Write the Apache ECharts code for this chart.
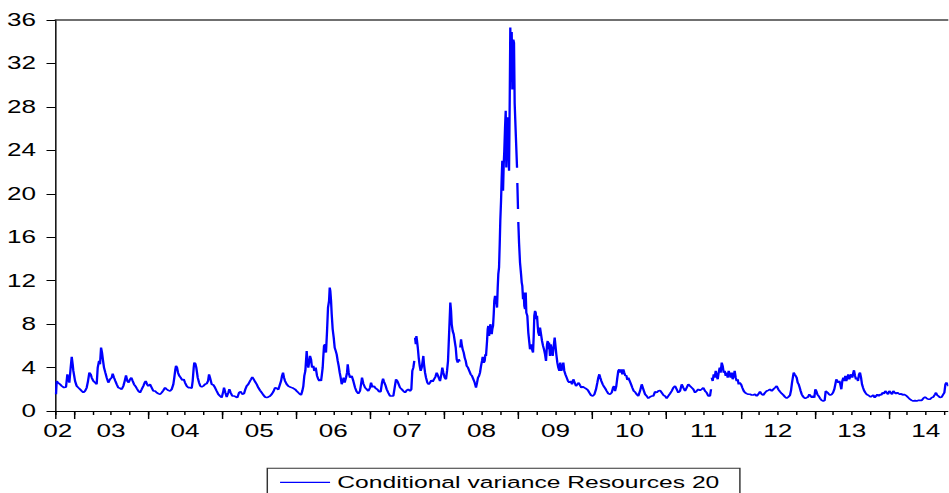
<!DOCTYPE html>
<html><head><meta charset="utf-8">
<script src="https://cdn.jsdelivr.net/npm/echarts@6/dist/echarts.min.js"></script>
<style>
html,body{margin:0;padding:0;background:#fff;overflow:hidden;width:949px;height:493px}
#chart{position:absolute;left:0;top:0;height:493px;transform-origin:0 0}
</style></head><body><div id="chart"></div>
<script>
// Observations: [decimal year, conditional variance]; null = missing observation
const seg2002_2004 = [[2002.757,1.54],[2002.766,2.76],[2002.784,2.61],[2002.811,2.46],[2002.834,2.30],[2002.865,2.15],[2002.892,2.21],[2002.910,3.38],[2002.923,2.92],[2002.937,2.61],[2002.955,4.00],[2002.969,4.98],[2002.982,4.30],[2002.991,3.69],
[2003.014,2.76],[2003.036,2.30],[2003.058,2.15],[2003.081,2.00],[2003.104,1.84],[2003.126,1.69],[2003.149,1.84],[2003.171,2.15],[2003.189,2.76],[2003.207,3.53],[2003.225,3.38],[2003.239,3.07],[2003.261,2.76],[2003.284,2.61],[2003.306,2.46],[2003.320,4.00],[2003.338,4.61],[2003.351,4.30],[2003.365,5.84],[2003.378,5.38],[2003.392,4.61],[2003.405,4.00],[2003.423,3.53],[2003.441,3.07],[2003.463,2.61],[2003.486,2.92],[2003.509,3.07],[2003.522,3.44],[2003.540,3.07],[2003.558,2.76],[2003.576,2.46],[2003.598,2.15],[2003.621,2.09],[2003.644,2.00],[2003.666,2.30],[2003.684,2.76],[2003.702,3.29],[2003.720,2.76],[2003.738,2.61],[2003.756,2.92],[2003.774,3.07],[2003.792,2.76],[2003.810,2.46],[2003.828,2.30],[2003.846,2.09],[2003.868,1.84],[2003.891,1.69],[2003.914,2.00],[2003.936,2.30],[2003.954,2.61],[2003.968,2.76],[2003.986,2.46],
[2004.003,2.30],[2004.026,2.46],[2004.049,2.15],[2004.071,1.84],[2004.094,1.84],[2004.116,1.69],[2004.138,1.60],[2004.161,1.54],[2004.184,1.69],[2004.206,1.90],[2004.229,2.15],[2004.251,2.00],[2004.273,1.90],[2004.296,1.84],[2004.319,2.00],[2004.341,2.46],[2004.354,3.07],[2004.368,3.84],[2004.377,4.15],[2004.391,4.00],[2004.404,3.53],[2004.422,3.23],[2004.440,3.07],[2004.462,2.83],[2004.481,2.92],[2004.499,2.61],[2004.521,2.30],[2004.543,2.15],[2004.566,2.15],[2004.589,2.09],[2004.602,2.76],[2004.616,4.00],[2004.624,4.45],[2004.638,4.36],[2004.651,4.00],[2004.670,3.07],[2004.688,2.61],[2004.705,2.30],[2004.724,2.21],[2004.746,2.30],[2004.769,2.46],[2004.791,2.52],[2004.809,2.76],[2004.823,3.38],[2004.836,3.07],[2004.859,2.46],[2004.881,2.40],[2004.904,2.15],[2004.926,1.84],[2004.948,1.54],[2004.971,1.38],[2004.994,1.23]];

const seg2005_2006 = [[2005.016,1.84],[2005.025,2.15],[2005.043,1.69],[2005.061,1.29],[2005.083,1.69],[2005.097,2.00],[2005.115,1.69],[2005.137,1.38],[2005.164,1.38],[2005.187,1.29],[2005.205,1.23],[2005.228,1.69],[2005.250,1.78],[2005.272,1.54],[2005.295,1.60],[2005.313,2.00],[2005.331,2.30],[2005.353,2.46],[2005.376,2.76],[2005.390,2.92],[2005.407,3.13],[2005.426,2.92],[2005.444,2.70],[2005.466,2.46],[2005.488,2.15],[2005.511,1.90],[2005.534,1.69],[2005.556,1.47],[2005.579,1.29],[2005.601,1.23],[2005.623,1.29],[2005.646,1.38],[2005.669,1.54],[2005.691,1.78],[2005.714,2.15],[2005.736,2.09],[2005.758,1.97],[2005.781,2.46],[2005.795,2.76],[2005.808,3.23],[2005.822,3.53],[2005.835,3.07],[2005.849,2.76],[2005.871,2.46],[2005.893,2.30],[2005.916,2.21],[2005.939,2.15],[2005.961,2.09],[2005.984,2.00],
[2006.006,1.84],[2006.028,1.69],[2006.051,1.54],[2006.065,1.47],[2006.082,1.84],[2006.096,2.30],[2006.109,3.23],[2006.123,3.69],[2006.132,4.61],[2006.141,5.53],[2006.150,4.61],[2006.163,4.00],[2006.177,4.61],[2006.186,5.07],[2006.200,4.76],[2006.213,4.00],[2006.231,4.15],[2006.244,3.69],[2006.263,4.00],[2006.281,3.23],[2006.298,2.92],[2006.312,2.76],[2006.321,2.92],[2006.335,2.76],[2006.344,3.23],[2006.357,3.99],[2006.366,5.07],[2006.375,5.99],[2006.389,6.14],[2006.402,5.38],[2006.416,7.37],[2006.429,9.52],[2006.443,10.14],[2006.452,11.37],[2006.460,11.06],[2006.470,10.14],[2006.479,8.91],[2006.492,7.53],[2006.506,6.76],[2006.519,5.84],[2006.533,5.53],[2006.546,5.22],[2006.560,4.61],[2006.573,4.15],[2006.587,3.53],[2006.600,3.07],[2006.614,2.46],[2006.627,2.76],[2006.641,3.07],[2006.654,2.61],[2006.672,3.07],[2006.686,3.53],[2006.695,4.30],[2006.708,3.53],[2006.726,3.07],[2006.749,3.23],[2006.771,2.76],[2006.794,2.15],[2006.816,1.78],[2006.838,1.60],[2006.861,1.84],[2006.875,2.46],[2006.888,3.07],[2006.906,2.52],[2006.929,2.15],[2006.951,2.00],[2006.973,1.84],[2006.996,2.15]];

const seg2007_2008 = [[2007.010,2.61],[2007.027,2.21],[2007.050,2.30],[2007.073,2.09],[2007.095,2.00],[2007.118,1.78],[2007.140,1.78],[2007.158,2.61],[2007.172,2.98],[2007.185,2.70],[2007.203,2.40],[2007.221,2.00],[2007.243,1.69],[2007.266,1.38],[2007.289,1.38],[2007.311,1.38],[2007.329,2.15],[2007.347,2.92],[2007.365,2.76],[2007.383,2.46],[2007.401,2.15],[2007.424,2.00],[2007.446,1.84],[2007.469,1.69],[2007.491,1.90],[2007.513,2.00],[2007.536,1.84],[2007.554,2.00],[2007.567,3.69],[2007.581,3.99],[2007.594,4.61],[2007.598,null],[2007.604,6.76],[2007.614,6.14],[2007.622,6.91],[2007.631,6.45],[2007.641,5.84],[2007.653,4.92],[2007.667,4.15],[2007.680,3.69],[2007.694,3.99],[2007.707,4.61],[2007.716,5.07],[2007.725,4.30],[2007.739,3.53],[2007.752,3.07],[2007.770,2.61],[2007.788,2.46],[2007.806,2.61],[2007.824,2.83],[2007.842,2.70],[2007.860,2.92],[2007.878,3.13],[2007.896,3.53],[2007.910,3.32],[2007.923,3.07],[2007.941,2.76],[2007.959,3.38],[2007.972,3.99],[2007.986,3.53],
[2008.004,3.07],[2008.022,2.92],[2008.036,3.69],[2008.049,4.61],[2008.058,6.14],[2008.067,7.68],[2008.076,9.22],[2008.080,9.98],[2008.090,9.22],[2008.099,7.99],[2008.112,7.37],[2008.126,7.07],[2008.139,6.45],[2008.153,5.84],[2008.166,4.76],[2008.180,4.45],[2008.193,4.76],[2008.207,4.55],[2008.212,null],[2008.215,5.84],[2008.225,6.61],[2008.234,6.14],[2008.247,5.68],[2008.261,5.38],[2008.274,4.92],[2008.288,4.61],[2008.301,4.15],[2008.319,3.99],[2008.337,3.69],[2008.355,3.38],[2008.373,3.23],[2008.391,2.92],[2008.409,2.61],[2008.427,2.15],[2008.441,2.61],[2008.454,3.07],[2008.468,3.23],[2008.481,3.53],[2008.495,4.15],[2008.508,4.61],[2008.517,4.98],[2008.531,4.45],[2008.544,4.61],[2008.553,5.22],[2008.562,5.07],[2008.576,6.45],[2008.585,7.53],[2008.593,7.83],[2008.603,6.91],[2008.612,7.37],[2008.620,7.99],[2008.630,7.68],[2008.639,7.07],[2008.647,7.53],[2008.657,7.83],[2008.666,8.91],[2008.674,10.14],[2008.684,10.60],[2008.693,10.29],[2008.701,10.14],[2008.711,9.52],[2008.720,11.37],[2008.728,12.60],[2008.738,13.21],[2008.747,15.36],[2008.755,17.51],[2008.765,19.35],[2008.774,21.51],[2008.782,23.04],[2008.792,20.28],[2008.801,22.73],[2008.809,23.96],[2008.819,26.11],[2008.828,27.65],[2008.836,22.43],[2008.846,26.73],[2008.855,27.04],[2008.863,24.58],[2008.873,22.12],[2008.882,28.57],[2008.890,35.30],[2008.900,30.30],[2008.909,34.90],[2008.917,29.60],[2008.931,34.20],[2008.940,33.90],[2008.949,28.30],[2008.965,25.30],[2008.981,22.40],[2008.983,null],[2008.985,21.00],[2008.994,18.60],[2008.996,null],[2008.998,17.40]];

const seg2009_2010 = [[2009.008,15.50],[2009.021,13.67],[2009.035,12.60],[2009.044,11.83],[2009.052,11.52],[2009.062,10.29],[2009.071,10.91],[2009.079,9.68],[2009.089,9.37],[2009.098,10.91],[2009.106,9.06],[2009.120,8.76],[2009.133,7.22],[2009.147,6.30],[2009.156,5.68],[2009.170,6.14],[2009.183,5.68],[2009.197,5.38],[2009.206,6.91],[2009.214,8.76],[2009.224,9.22],[2009.233,9.06],[2009.241,8.45],[2009.251,8.76],[2009.260,7.83],[2009.268,7.22],[2009.282,6.91],[2009.291,7.68],[2009.305,7.07],[2009.318,6.45],[2009.332,5.99],[2009.345,5.68],[2009.359,5.22],[2009.372,4.61],[2009.386,6.14],[2009.395,6.45],[2009.403,5.68],[2009.413,6.30],[2009.426,5.07],[2009.435,6.14],[2009.449,5.68],[2009.462,5.07],[2009.476,5.99],[2009.489,6.76],[2009.498,6.14],[2009.511,5.22],[2009.525,4.45],[2009.538,3.99],[2009.552,3.69],[2009.565,4.45],[2009.579,3.69],[2009.592,3.99],[2009.606,4.45],[2009.619,3.69],[2009.633,3.38],[2009.651,3.07],[2009.669,2.76],[2009.687,2.61],[2009.705,2.76],[2009.723,2.46],[2009.741,2.92],[2009.759,2.61],[2009.777,2.30],[2009.795,2.46],[2009.813,2.61],[2009.831,2.37],[2009.849,2.15],[2009.867,2.24],[2009.889,2.15],[2009.912,2.06],[2009.935,1.94],[2009.957,1.69],[2009.980,1.44],
[2010.002,1.38],[2010.024,1.51],[2010.047,2.00],[2010.065,2.61],[2010.078,3.07],[2010.092,3.38],[2010.105,3.07],[2010.119,2.76],[2010.137,2.46],[2010.155,2.24],[2010.173,2.06],[2010.191,1.84],[2010.213,1.60],[2010.236,1.54],[2010.259,1.69],[2010.277,2.15],[2010.290,2.30],[2010.304,1.84],[2010.321,2.30],[2010.335,3.07],[2010.348,3.69],[2010.362,3.84],[2010.375,3.53],[2010.389,3.84],[2010.402,3.38],[2010.416,3.84],[2010.429,3.53],[2010.443,3.23],[2010.456,3.29],[2010.470,2.86],[2010.483,3.07],[2010.502,2.76],[2010.520,2.46],[2010.537,2.15],[2010.556,1.84],[2010.574,1.75],[2010.596,1.54],[2010.618,1.38],[2010.641,1.84],[2010.664,2.46],[2010.686,2.00],[2010.709,1.54],[2010.731,1.38],[2010.753,1.17],[2010.776,1.29],[2010.799,1.38],[2010.821,1.38],[2010.844,1.78],[2010.866,1.69],[2010.888,1.84],[2010.911,1.90],[2010.934,1.69],[2010.956,1.47],[2010.979,1.38]];

const seg2011_2012 = [[2011.001,1.17],[2011.023,1.38],[2011.046,1.60],[2011.069,1.84],[2011.091,2.15],[2011.114,2.30],[2011.136,2.00],[2011.158,1.69],[2011.181,1.84],[2011.204,2.46],[2011.226,2.15],[2011.249,1.84],[2011.271,2.15],[2011.293,2.46],[2011.316,2.30],[2011.339,2.15],[2011.361,2.00],[2011.384,1.69],[2011.406,1.84],[2011.428,2.00],[2011.451,1.90],[2011.474,2.00],[2011.496,2.15],[2011.519,1.84],[2011.541,1.69],[2011.563,1.38],[2011.586,1.38],[2011.600,2.00],[2011.605,null],[2011.609,3.07],[2011.622,2.76],[2011.636,3.38],[2011.649,3.07],[2011.663,3.69],[2011.676,3.23],[2011.690,2.92],[2011.703,3.53],[2011.717,3.99],[2011.730,3.53],[2011.744,4.45],[2011.757,4.15],[2011.771,3.53],[2011.784,3.69],[2011.798,3.23],[2011.811,3.53],[2011.825,3.07],[2011.838,3.69],[2011.852,3.38],[2011.865,3.07],[2011.879,3.53],[2011.892,2.92],[2011.906,3.23],[2011.919,3.69],[2011.933,3.07],[2011.946,2.76],[2011.960,2.92],[2011.973,2.46],[2011.987,2.61],
[2012.005,2.46],[2012.022,2.15],[2012.041,1.84],[2012.059,1.69],[2012.081,1.60],[2012.103,1.54],[2012.126,1.54],[2012.149,1.47],[2012.171,1.47],[2012.194,1.54],[2012.216,1.38],[2012.238,1.54],[2012.261,1.78],[2012.284,1.54],[2012.306,1.47],[2012.329,1.69],[2012.351,1.84],[2012.373,1.90],[2012.396,2.00],[2012.419,1.84],[2012.441,2.00],[2012.464,2.15],[2012.486,2.30],[2012.508,2.00],[2012.531,1.78],[2012.554,1.60],[2012.576,1.47],[2012.599,1.29],[2012.621,1.17],[2012.643,1.29],[2012.666,1.45],[2012.680,1.90],[2012.693,2.60],[2012.707,3.20],[2012.716,3.53],[2012.729,3.38],[2012.743,3.23],[2012.756,3.07],[2012.770,2.61],[2012.783,2.46],[2012.797,2.15],[2012.810,1.84],[2012.824,1.54],[2012.837,1.38],[2012.855,1.23],[2012.873,1.17],[2012.891,1.23],[2012.909,1.29],[2012.927,1.54],[2012.945,1.38],[2012.963,1.23],[2012.981,1.38],[2012.994,1.23]];

const seg2013_2014 = [[2013.008,2.00],[2013.021,1.84],[2013.035,1.54],[2013.053,1.38],[2013.071,1.17],[2013.094,0.98],[2013.116,0.92],[2013.134,0.98],[2013.148,1.84],[2013.161,1.84],[2013.175,1.69],[2013.193,1.54],[2013.210,1.47],[2013.229,1.54],[2013.247,1.69],[2013.264,2.00],[2013.278,2.46],[2013.291,2.92],[2013.305,2.76],[2013.318,2.61],[2013.332,2.76],[2013.345,2.46],[2013.359,2.00],[2013.372,2.76],[2013.386,3.07],[2013.399,2.76],[2013.413,3.23],[2013.426,2.76],[2013.440,3.07],[2013.453,3.38],[2013.467,2.92],[2013.480,3.23],[2013.494,3.38],[2013.507,3.07],[2013.521,3.53],[2013.530,3.75],[2013.544,3.23],[2013.557,2.92],[2013.571,3.07],[2013.584,2.76],[2013.598,3.38],[2013.611,3.53],[2013.625,3.07],[2013.638,2.46],[2013.652,2.15],[2013.665,1.90],[2013.683,1.69],[2013.701,1.54],[2013.719,1.47],[2013.737,1.38],[2013.755,1.29],[2013.773,1.38],[2013.791,1.47],[2013.809,1.23],[2013.827,1.38],[2013.845,1.54],[2013.863,1.38],[2013.881,1.54],[2013.899,1.47],[2013.917,1.69],[2013.935,1.60],[2013.953,1.84],[2013.971,1.69],[2013.989,1.54],
[2014.007,1.84],[2014.025,1.69],[2014.043,1.54],[2014.061,1.84],[2014.079,1.69],[2014.097,1.60],[2014.115,1.69],[2014.133,1.60],[2014.151,1.54],[2014.169,1.60],[2014.187,1.47],[2014.205,1.54],[2014.223,1.47],[2014.241,1.38],[2014.263,1.23],[2014.286,1.08],[2014.309,0.98],[2014.331,0.92],[2014.354,0.98],[2014.376,0.92],[2014.398,0.98],[2014.421,0.98],[2014.444,0.98],[2014.466,1.17],[2014.489,1.29],[2014.511,1.17],[2014.533,1.08],[2014.556,1.08],[2014.579,1.23],[2014.601,1.29],[2014.624,1.54],[2014.637,1.69],[2014.651,1.47],[2014.669,1.38],[2014.691,1.23],[2014.714,1.29],[2014.736,1.54],[2014.750,1.69],[2014.764,2.46],[2014.777,2.61],[2014.791,2.46],[2014.809,2.30]];

const seriesName = 'Conditional variance Resources 20';
const yearLabels = ['02','03','04','05','06','07','08','09','10','11','12','13','14'];
const yearLabelAt = [2002.78,2003.5,2004.5,2005.5,2006.5,2007.5,2008.5,2009.5,2010.5,2011.5,2012.5,2013.5,2014.5];
const yearStarts = [2002.75,2003,2004,2005,2006,2007,2008,2009,2010,2011,2012,2013,2014];

const S = 1.45; // horizontal stretch of the reference picture
const W = 949 / S;
const el = document.getElementById('chart');
el.style.width = W + 'px';
el.style.transform = 'scaleX(' + S + ')';

const quarterTicks = [];
for (let q = 0; q <= 48; q++) quarterTicks.push(2002.75 + q * 0.25);

const obs = [].concat(seg2002_2004, seg2005_2006, seg2007_2008, seg2009_2010, seg2011_2012, seg2013_2014)
  .map(p => [p[0], p[1] == null ? '-' : p[1]]);

const FONT = "'Liberation Sans', Arial, sans-serif";
const chart = echarts.init(el, null, {renderer: 'svg', width: W, height: 493});
const xMin = 2002.75, xMax = 2014.8125;
chart.setOption({
  animation: false,
  backgroundColor: '#fff',
  textStyle: {fontFamily: FONT},
  grid: {left: 55.5 / S, right: 0, top: 20, bottom: 82, containLabel: false},
  xAxis: [
    {type: 'value', min: xMin, max: xMax, position: 'bottom',
     axisLine: {show: true, lineStyle: {color: '#000', width: 1}},
     axisTick: {show: true, customValues: quarterTicks, length: 4, inside: false, lineStyle: {color: '#000'}},
     axisLabel: {show: true, customValues: yearLabelAt, margin: 11, fontSize: 18, color: '#000', fontFamily: FONT,
       formatter: v => { const i = yearLabelAt.findIndex(a => Math.abs(a - v) < 0.01); return i >= 0 ? yearLabels[i] : ''; }},
     splitLine: {show: false}},
    {type: 'value', min: xMin, max: xMax, position: 'bottom',
     axisLine: {show: false},
     axisTick: {show: true, customValues: yearStarts, length: 8, inside: false, lineStyle: {color: '#000'}},
     axisLabel: {show: false}, splitLine: {show: false}},
    {type: 'value', min: xMin, max: xMax, position: 'top',
     axisLine: {show: true, lineStyle: {color: '#404040', width: 1.5}},
     axisTick: {show: false}, axisLabel: {show: false}, splitLine: {show: false}}
  ],
  yAxis: {type: 'value', min: 0, max: 36, interval: 4,
    axisLine: {show: true, lineStyle: {color: '#000', width: 1}},
    axisTick: {show: true, length: 9 / S, inside: false, lineStyle: {color: '#000'}},
    axisLabel: {margin: 19.5 / S, fontSize: 18, color: '#000', fontFamily: FONT},
    splitLine: {show: false}},
  legend: {
    data: [{name: seriesName, icon: 'rect'}], left: 267.3 / S, top: 468.3, orient: 'horizontal',
    borderColor: '#333', borderWidth: 1, padding: [4, 14, 12, 8.8],
    itemWidth: 50 / S, itemHeight: 1.2,
    textStyle: {fontSize: 17, color: '#000', fontFamily: FONT, lineHeight: 20}
  },
  series: [{
    name: seriesName, type: 'line', xAxisIndex: 0, data: obs,
    symbol: 'none', showSymbol: false, connectNulls: false, clip: true,
    lineStyle: {color: '#0000ff', width: 1.6}, itemStyle: {color: '#0000ff'}
  }]
});
</script></body></html>
